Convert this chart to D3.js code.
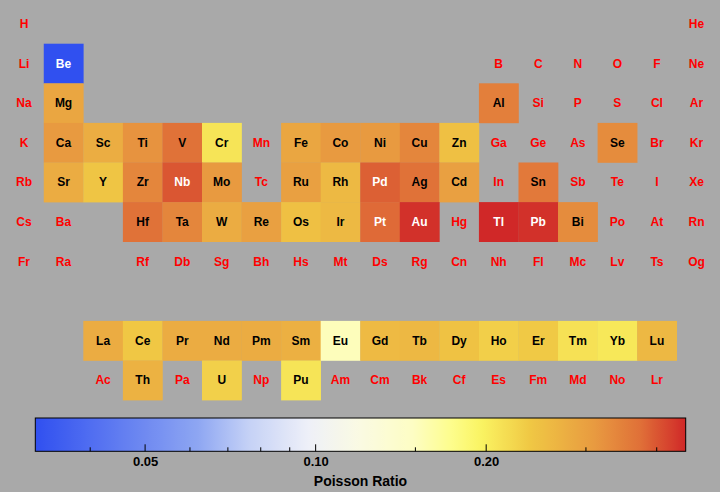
<!DOCTYPE html>
<html>
<head>
<meta charset="utf-8">
<script src="https://cdn.jsdelivr.net/npm/d3@7"></script>
<style>
html,body{margin:0;padding:0;background:#a9a9a9;}
svg{display:block;}
text{font-family:"Liberation Sans",Arial,Helvetica,sans-serif;font-weight:bold;}
</style>
</head>
<body>
<svg id="chart" width="720" height="492"></svg>
<script>
// Periodic table layout rows (null = empty slot)
const row0 = ["H",null,null,null,null,null,null,null,null,null,null,null,null,null,null,null,null,"He"];
const row1 = ["Li","Be",null,null,null,null,null,null,null,null,null,null,"B","C","N","O","F","Ne"];
const row2 = ["Na","Mg",null,null,null,null,null,null,null,null,null,null,"Al","Si","P","S","Cl","Ar"];
const row3 = ["K","Ca","Sc","Ti","V","Cr","Mn","Fe","Co","Ni","Cu","Zn","Ga","Ge","As","Se","Br","Kr"];
const row4 = ["Rb","Sr","Y","Zr","Nb","Mo","Tc","Ru","Rh","Pd","Ag","Cd","In","Sn","Sb","Te","I","Xe"];
const row5 = ["Cs","Ba",null,"Hf","Ta","W","Re","Os","Ir","Pt","Au","Hg","Tl","Pb","Bi","Po","At","Rn"];
const row6 = ["Fr","Ra",null,"Rf","Db","Sg","Bh","Hs","Mt","Ds","Rg","Cn","Nh","Fl","Mc","Lv","Ts","Og"];
const row7 = [];
const row8 = [null,null,"La","Ce","Pr","Nd","Pm","Sm","Eu","Gd","Tb","Dy","Ho","Er","Tm","Yb","Lu"];
const row9 = [null,null,"Ac","Th","Pa","U","Np","Pu","Am","Cm","Bk","Cf","Es","Fm","Md","No","Lr"];
const tableRows = [row0,row1,row2,row3,row4,row5,row6,row7,row8,row9];

// Poisson ratio values
const symbols = ["Be","Mg","Al","Ca","Sc","Ti","V","Cr","Fe","Co","Ni","Cu","Zn","Se",
  "Sr","Y","Zr","Nb","Mo","Ru","Rh","Pd","Ag","Cd","Sn",
  "Hf","Ta","W","Re","Os","Ir","Pt","Au","Tl","Pb","Bi",
  "La","Ce","Pr","Nd","Pm","Sm","Eu","Gd","Tb","Dy","Ho","Er","Tm","Yb","Lu",
  "Th","U","Pu"];
const poisson = [0.032,0.29,0.35,0.31,0.279,0.32,0.37,0.21,0.29,0.31,0.31,0.34,0.25,0.33,
  0.28,0.243,0.34,0.40,0.31,0.30,0.26,0.39,0.37,0.30,0.36,
  0.37,0.34,0.28,0.30,0.25,0.26,0.38,0.44,0.45,0.44,0.33,
  0.28,0.24,0.281,0.281,0.28,0.274,0.152,0.259,0.261,0.247,0.231,0.237,0.213,0.207,0.261,
  0.27,0.23,0.21];

const colorbarTicks = [0.05,0.10,0.20];
const colorbarMinorTicks = [0.04,0.06,0.07,0.08,0.09,0.15,0.3,0.4];
const colorbarLabel = "Poisson Ratio";

const valueBySymbol = new Map(symbols.map((s,i)=>[s,poisson[i]]));
const vmin = d3.min(poisson), vmax = d3.max(poisson);

const svg = d3.select("#chart");
svg.append("rect").attr("width",720).attr("height",492).attr("fill","#a9a9a9");

const x = d3.scaleBand().domain(d3.range(18)).range([4.2, 4.2+18*39.56]).padding(0);
const y = d3.scaleBand().domain(d3.range(10)).range([4.1, 4.1+10*39.6]).padding(0);

const tScale = d3.scaleLog().domain([vmin, vmax]).range([0,1]).clamp(true);
const stops = [
  [0.00,"#3050f0"],
  [0.25,"#8ea6f2"],
  [0.33,"#c6d2f6"],
  [0.42,"#eef0f8"],
  [0.50,"#fafae2"],
  [0.58,"#fdfdc4"],
  [0.64,"#fdfd8c"],
  [0.685,"#faf462"],
  [0.76,"#f0c844"],
  [0.86,"#e89a40"],
  [0.93,"#e07038"],
  [1.00,"#d02828"]
];
const cmap = d3.scaleLinear().domain(stops.map(s=>s[0])).range(stops.map(s=>s[1])).interpolate(d3.interpolateRgb);
const color = v => cmap(tScale(v));

const cells = [];
tableRows.forEach((r,ri)=>r.forEach((s,ci)=>{ if(s) cells.push({s, r:ri, c:ci, v:valueBySymbol.get(s)}); }));

const g = svg.append("g");
g.selectAll("rect.cell").data(cells.filter(d=>d.v!==undefined)).join("rect")
  .attr("class","cell")
  .attr("x",d=>x(d.c)).attr("y",d=>y(d.r))
  .attr("width",x.bandwidth()+0.3).attr("height",y.bandwidth()+0.3)
  .attr("fill",d=>color(d.v));

g.selectAll("text.sym").data(cells).join("text")
  .attr("class","sym")
  .attr("x",d=>x(d.c)+x.bandwidth()/2)
  .attr("y",d=>y(d.r)+y.bandwidth()/2)
  .attr("text-anchor","middle")
  .attr("dominant-baseline","central")
  .attr("font-size",12)
  .attr("fill",d=>d.v===undefined ? "#ff0000" : ((d.v>0.375 || d.v<0.06) ? "#ffffff" : "#000000"))
  .text(d=>d.s);

// Colorbar
const cbX0 = 35.3, cbX1 = 685.7, cbY = 418, cbH = 33.3;
const cbScale = d3.scaleLog().domain([vmin, vmax]).range([cbX0, cbX1]);
const defs = svg.append("defs");
const grad = defs.append("linearGradient").attr("id","cbgrad").attr("x1","0%").attr("x2","100%").attr("y1","0%").attr("y2","0%");
grad.selectAll("stop").data(d3.range(0,1.0001,0.01)).join("stop")
  .attr("offset",d=>(d*100)+"%").attr("stop-color",d=>cmap(d));
svg.append("rect").attr("x",cbX0).attr("y",cbY).attr("width",cbX1-cbX0).attr("height",cbH)
  .attr("fill","url(#cbgrad)").attr("stroke","#000").attr("stroke-width",1);

const axis = d3.axisBottom(cbScale).tickValues(colorbarTicks).tickSize(0).tickPadding(5)
  .tickFormat(d3.format(".2f"));
const ax = svg.append("g").attr("transform",`translate(0,${cbY+cbH})`).call(axis);
ax.select(".domain").remove();
ax.selectAll("text").attr("font-size",13).attr("fill","#000")
  .style("font-family","'Liberation Sans',Arial,sans-serif").style("font-weight","bold");

svg.append("g").selectAll("line.maj").data(colorbarTicks).join("line")
  .attr("x1",d=>cbScale(d)).attr("x2",d=>cbScale(d))
  .attr("y1",cbY+cbH).attr("y2",cbY+cbH-7).attr("stroke","#000").attr("stroke-width",1);
svg.append("g").selectAll("line.min").data(colorbarMinorTicks).join("line")
  .attr("x1",d=>cbScale(d)).attr("x2",d=>cbScale(d))
  .attr("y1",cbY+cbH).attr("y2",cbY+cbH-4).attr("stroke","#000").attr("stroke-width",1);

svg.append("text").attr("x",(cbX0+cbX1)/2).attr("y",481).attr("text-anchor","middle")
  .attr("dominant-baseline","central").attr("font-size",14).attr("fill","#000").text(colorbarLabel);
</script>
</body>
</html>
